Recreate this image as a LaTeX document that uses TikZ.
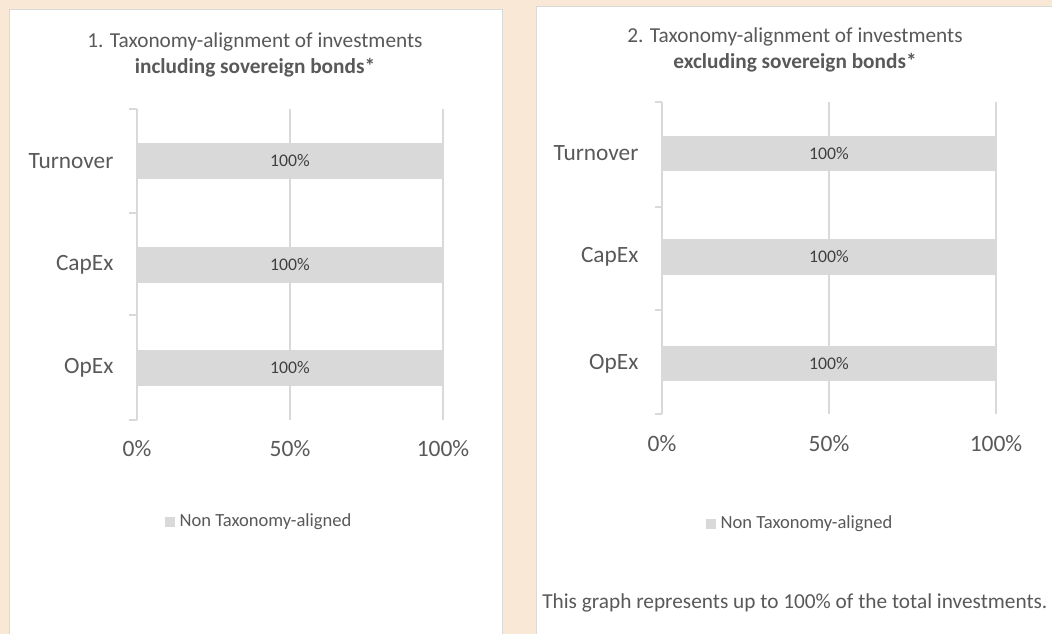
\documentclass[tikz,border=0pt]{standalone}
\usepackage{fontspec}
\setmainfont{Carlito}
\usetikzlibrary{positioning}
\definecolor{peach}{RGB}{250,232,214}
\definecolor{gridgray}{RGB}{217,217,217}
\definecolor{textgray}{RGB}{89,89,89}
\definecolor{bartext}{RGB}{64,64,64}

\begin{document}
\begin{tikzpicture}
		[x=0.25mm, y=-0.25mm,
		every node/.style={inner sep=0pt, text=textgray},
		panel/.style={draw=gridgray, line width=0.6pt},
		gridline/.style={draw=gridgray, line width=1pt},
		barbox/.style={fill=gridgray, minimum width=#1, minimum height=8.9mm, text=bartext, font=\fontsize{12.6}{15}\selectfont},
		titletext/.style={anchor=base, font=\fontsize{15.15}{18}\selectfont},
		catlabel/.style={font=\fontsize{16.6}{20}\selectfont},
		ticklabel/.style={font=\fontsize{16.7}{20}\selectfont},
		legendkey/.style={fill=gridgray, minimum size=2.5mm},
		legendtext/.style={font=\fontsize{13.2}{16}\selectfont},
		notetext/.style={anchor=west, font=\fontsize{15.15}{18}\selectfont}]
		\useasboundingbox (0,0) rectangle (1052,634);
		\fill[peach] (0,0) rectangle (1052,634);
		
		% left panel
		\fill[white] (9,9) rectangle (502,634);
		\draw[panel] (9,634) -- (9,9) -- (502,9) -- (502,634);
		\node[titletext] (title1) at (255,48) {1. Taxonomy-alignment of investments};
		\node[titletext] (sub1) at (255,74) {\textbf{including sovereign bonds*}};
		
		\draw[gridline] (137,109) -- (137,420);
		\draw[gridline] (290,109) -- (290,420);
		\draw[gridline] (443,109) -- (443,420);
		\draw[gridline] (129,109) -- (137,109) (129,213) -- (137,213) (129,315) -- (137,315) (129,420) -- (137,420);
		
		\node[barbox=76.5mm] (turn1) at (290,161) {100\%};
		\node[barbox=76.5mm] (cap1) at (290,265) {100\%};
		\node[barbox=76.5mm] (op1) at (290,368) {100\%};
		\node[catlabel, left=5.75mm of turn1] (turnlab1) {Turnover};
		\node[catlabel, left=5.75mm of cap1] (caplab1) {CapEx};
		\node[catlabel, left=5.75mm of op1] (oplab1) {OpEx};
		
		\node[ticklabel] (zero1) at (137,449) {0\%};
		\node[ticklabel] (half1) at (290,449) {50\%};
		\node[ticklabel] (full1) at (443,449) {100\%};
		
		\node[legendkey] (key1) at (170,522) {};
		\node[legendtext, right=1mm of key1] (leg1) {Non Taxonomy-aligned};
		
		% right panel
		\fill[white] (536,6) rectangle (1052,634);
		\draw[panel] (536,634) -- (536,6) -- (1052,6);
		\node[titletext] (title2) at (795,43) {2. Taxonomy-alignment of investments};
		\node[titletext] (sub2) at (795,69) {\textbf{excluding sovereign bonds*}};
		
		\draw[gridline] (662,102) -- (662,414);
		\draw[gridline] (829,102) -- (829,414);
		\draw[gridline] (996,102) -- (996,414);
		\draw[gridline] (655,102) -- (662,102) (655,207) -- (662,207) (655,310) -- (662,310) (655,414) -- (662,414);
		
		\node[barbox=83.5mm] (turn2) at (829,153.5) {100\%};
		\node[barbox=83.5mm] (cap2) at (829,257) {100\%};
		\node[barbox=83.5mm] (op2) at (829,363.5) {100\%};
		\node[catlabel, left=5.75mm of turn2] (turnlab2) {Turnover};
		\node[catlabel, left=5.75mm of cap2] (caplab2) {CapEx};
		\node[catlabel, left=5.75mm of op2] (oplab2) {OpEx};
		
		\node[ticklabel] (zero2) at (662,444) {0\%};
		\node[ticklabel] (half2) at (829,444) {50\%};
		\node[ticklabel] (full2) at (996,444) {100\%};
		
		\node[legendkey] (key2) at (711,524) {};
		\node[legendtext, right=1mm of key2] (leg2) {Non Taxonomy-aligned};
		
		\node[notetext] (note2) at (542,603) {This graph represents up to 100\% of the total investments.};
		\end{tikzpicture}
\end{document}
